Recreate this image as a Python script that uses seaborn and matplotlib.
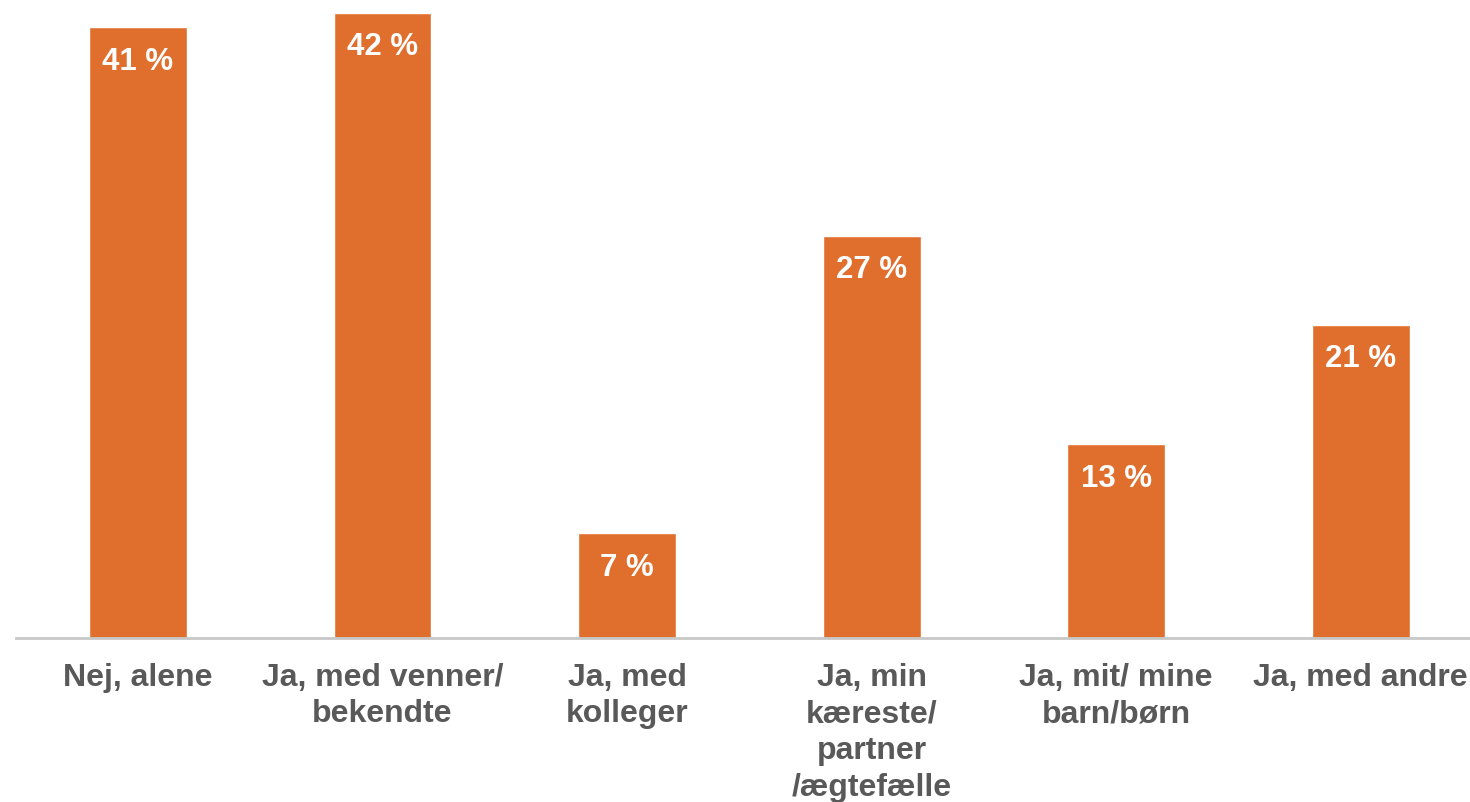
import matplotlib
matplotlib.use("Agg")
import matplotlib.pyplot as plt
import seaborn as sns
import pandas as pd

categories = [
    "Nej, alene",
    "Ja, med venner/\nbekendte",
    "Ja, med\nkolleger",
    "Ja, min\nkæreste/\npartner\n/ægtefælle",
    "Ja, mit/ mine\nbarn/børn",
    "Ja, med andre",
]
values = [41, 42, 7, 27, 13, 21]
value_labels = ["41 %", "42 %", "7 %", "27 %", "13 %", "21 %"]

bar_color = "#E06E2D"
text_color = "#595959"

sns.set_theme(style="white")
plt.rcParams["font.family"] = ["Liberation Sans", "DejaVu Sans"]

df = pd.DataFrame({"category": categories, "value": values})

fig = plt.figure(figsize=(14.7, 8.02), dpi=100)
ax = fig.add_axes([0.0107, 0.205, 0.9893, 0.795])

sns.barplot(data=df, x="category", y="value", color=bar_color,
            saturation=1, width=0.4, ax=ax)

ax.set_ylim(0, 42.84)
ax.set_xlim(-0.5, 5.447)

for patch, lab in zip(ax.patches, value_labels):
    x = patch.get_x() + patch.get_width() / 2
    h = patch.get_height()
    ax.annotate(lab, (x, h), xytext=(0, -14), textcoords="offset points",
                ha="center", va="top", color="white", fontsize=22.5,
                fontweight="bold")

ax.set_xlabel("")
ax.set_ylabel("")
ax.set_yticks([])
for side in ["top", "right", "left"]:
    ax.spines[side].set_visible(False)
ax.spines["bottom"].set_color("#C8C8C8")
ax.spines["bottom"].set_linewidth(2)
ax.tick_params(axis="x", length=0, pad=18, labelsize=23, labelcolor=text_color)
for t in ax.get_xticklabels():
    t.set_fontweight("bold")
    t.set_linespacing(1.29)

fig.savefig("out.png", dpi=100, facecolor="white")
